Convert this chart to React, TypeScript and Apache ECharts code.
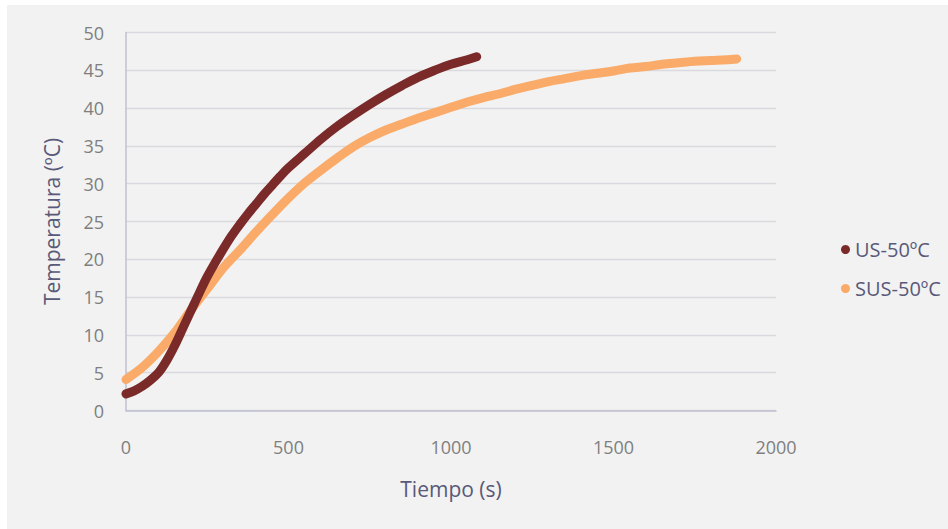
import React, { useEffect, useRef } from "react";
import * as echarts from "echarts";

// Heating curves, time (s) vs temperature (ºC)
const usTime = [0, 25, 50, 75, 100, 125, 150, 175, 200, 225, 250, 275, 300, 325, 350, 375, 400, 425, 450, 475, 500, 550, 600, 650, 700, 750, 800, 850, 900, 950, 1000, 1050, 1079];
const usTemp = [2.2, 2.6, 3.2, 4.0, 5.0, 6.6, 8.6, 10.9, 13.2, 15.5, 17.7, 19.6, 21.4, 23.1, 24.6, 26.0, 27.3, 28.6, 29.8, 31.0, 32.1, 34.0, 35.9, 37.6, 39.1, 40.5, 41.8, 43.0, 44.1, 45.0, 45.8, 46.4, 46.8];

const susTime = [0, 50, 100, 150, 200, 250, 300, 350, 400, 450, 500, 550, 600, 650, 700, 750, 800, 850, 900, 950, 1000, 1050, 1100, 1150, 1200, 1250, 1300, 1350, 1400, 1450, 1500, 1550, 1600, 1650, 1700, 1750, 1800, 1850, 1879];
const susTemp = [4.1, 5.7, 7.8, 10.3, 13.3, 16.1, 18.9, 21.2, 23.6, 25.9, 28.1, 30.1, 31.8, 33.4, 34.9, 36.1, 37.1, 37.9, 38.7, 39.4, 40.1, 40.8, 41.4, 41.9, 42.5, 43.0, 43.5, 43.9, 44.3, 44.6, 44.9, 45.3, 45.5, 45.8, 46.0, 46.2, 46.3, 46.4, 46.5];

const seriesNames = ["US-50ºC", "SUS-50ºC"];
const seriesColors = ["#7B2A2A", "#FAAB69"];
const xTitle = "Tiempo (s)";
const yTitle = "Temperatura (ºC)";

const FONT = "'Open Sans', 'Noto Sans', sans-serif";

export default function App() {
  const ref = useRef<HTMLDivElement>(null);

  useEffect(() => {
    if (!ref.current) return;
    const chart = echarts.init(ref.current, undefined, { renderer: "svg" });
    const pair = (xs: number[], ys: number[]) => xs.map((x, i) => [x, ys[i]]);
    const mkSeries = (name: string, color: string, data: number[][], z: number) => ({
      name,
      type: "line",
      data,
      smooth: 0.35,
      showSymbol: false,
      symbol: "circle",
      symbolSize: 9,
      color,
      lineStyle: { width: 9, color, cap: "round", join: "round" },
      emphasis: { disabled: true },
      z,
    });

    chart.setOption({
      animation: false,
      backgroundColor: "#F2F2F2",
      textStyle: { fontFamily: FONT },
      grid: { left: 119, top: 27.5, width: 650, height: 378 },
      legend: {
        orient: "vertical",
        left: 829,
        top: 229.5,
        icon: "circle",
        itemWidth: 9,
        itemHeight: 9,
        itemGap: 19,
        textStyle: { color: "#595979", fontSize: 20, fontFamily: FONT },
        data: seriesNames,
      },
      xAxis: {
        type: "value",
        min: 0,
        max: 2000,
        interval: 500,
        name: xTitle,
        nameLocation: "middle",
        nameGap: 68,
        nameTextStyle: { color: "#595979", fontSize: 21, fontFamily: FONT },
        axisLine: { show: true, lineStyle: { color: "#BFC0CF", width: 1.5 } },
        axisTick: { show: false },
        axisLabel: {
          color: "#7F7F7F",
          fontSize: 18,
          margin: 27,
          fontFamily: FONT,
          formatter: (v: number) => String(v),
        },
        splitLine: { show: false },
      },
      yAxis: {
        type: "value",
        min: 0,
        max: 50,
        interval: 5,
        name: yTitle,
        nameLocation: "middle",
        nameGap: 64,
        nameTextStyle: { color: "#595979", fontSize: 21, fontFamily: FONT },
        axisLine: { show: true, lineStyle: { color: "#BFC0CF", width: 1.5 } },
        axisTick: { show: false },
        axisLabel: { color: "#7F7F7F", fontSize: 18, margin: 22, fontFamily: FONT },
        splitLine: { show: true, lineStyle: { color: "#D9D9DF", width: 1.3 } },
      },
      series: [
        mkSeries(seriesNames[0], seriesColors[0], pair(usTime, usTemp), 3),
        mkSeries(seriesNames[1], seriesColors[1], pair(susTime, susTemp), 2),
      ],
    });
    return () => chart.dispose();
  }, []);

  return (
    <div style={{ position: "fixed", left: 0, top: 0, width: 948, height: 529, background: "#FFFFFF" }}>
      <div ref={ref} style={{ position: "absolute", left: 7, top: 5, width: 941, height: 524 }} />
    </div>
  );
}
